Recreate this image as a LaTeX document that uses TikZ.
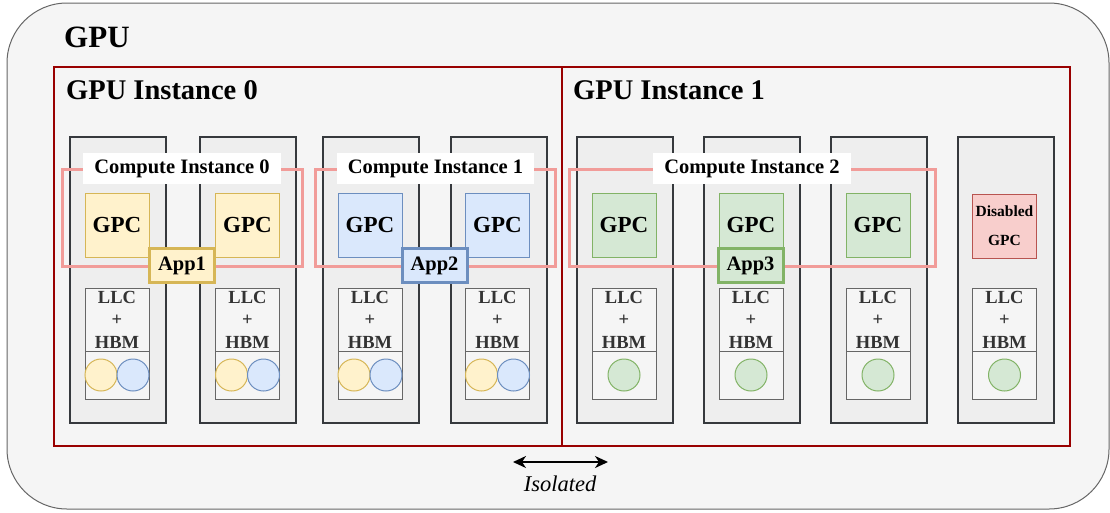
\documentclass[tikz,border=0pt]{standalone}
\usepackage{fontspec}
\setmainfont{Liberation Serif}
\usetikzlibrary{arrows.meta}
\definecolor{bgfill}{HTML}{F5F5F5}
\definecolor{bgline}{HTML}{666666}
\definecolor{instred}{HTML}{990000}
\definecolor{colfill}{HTML}{EEEEEE}
\definecolor{colline}{HTML}{36393D}
\definecolor{pinkline}{HTML}{F19C99}
\definecolor{yfill}{HTML}{FFF2CC}
\definecolor{yline}{HTML}{D6B656}
\definecolor{bfill}{HTML}{DAE8FC}
\definecolor{bline}{HTML}{6C8EBF}
\definecolor{gfill}{HTML}{D5E8D4}
\definecolor{gline}{HTML}{82B366}
\definecolor{rfill}{HTML}{F8CECC}
\definecolor{rline}{HTML}{B85450}
\definecolor{txtgray}{HTML}{333333}
\tikzset{
  outerbox/.style={draw=bgline, fill=bgfill, line width=1pt, rounded corners=60pt},
  instbox/.style={draw=instred, line width=2pt, minimum width=508pt, minimum height=379pt, inner sep=0pt},
  colbox/.style={draw=colline, fill=colfill, line width=2pt, minimum width=96pt, minimum height=286pt, inner sep=0pt},
  cibox/.style={draw=pinkline, line width=3pt, minimum height=97pt, inner sep=0pt},
  cilabel/.style={fill=white, inner xsep=11pt, minimum height=31pt, font=\fontsize{20.5}{24}\selectfont\bfseries},
  gpcbox/.style={minimum width=64pt, minimum height=64pt, inner sep=0pt, line width=1pt, font=\fontsize{23}{26}\selectfont\bfseries},
  appbox/.style={minimum width=65pt, minimum height=34pt, inner sep=0pt, line width=3pt, font=\fontsize{20.5}{24}\selectfont\bfseries},
  llcbox/.style={draw=bgline, fill=bgfill, line width=1pt, minimum width=64pt, minimum height=63pt, inner sep=0pt, align=center, text=txtgray, font=\fontsize{18.5}{22.5}\selectfont\bfseries},
  memcell/.style={draw=bgline, fill=bgfill, line width=1pt, minimum width=64pt, minimum height=48pt, inner sep=0pt},
  dot/.style={circle, minimum size=32pt, inner sep=0pt, line width=1pt},
  title/.style={anchor=base west, inner sep=0pt, font=\bfseries}
}
\begin{document}
\begin{tikzpicture}[x=1pt,y=-1pt]
\useasboundingbox (0,0) rectangle (1110,512);
\draw[outerbox] (7,3) rectangle (1109,509);
\node[title, font=\fontsize{31}{36}\selectfont\bfseries] (gputitle) at (64,47) {GPU};
% GPU instances
\node[instbox] (gi0) at (308,256.5) {};
\node[instbox] (gi1) at (816,256.5) {};
\node[title, font=\fontsize{28.5}{32}\selectfont\bfseries] (gi0t) at (66,99) {GPU Instance 0};
\node[title, font=\fontsize{28.5}{32}\selectfont\bfseries] (gi1t) at (573,99) {GPU Instance 1};
% columns
\foreach \i/\x in {1/118,2/247.5,3/371,4/499,5/625,6/752,7/879,8/1005.5}{
  \node[colbox] (col\i) at (\x,280) {};
}
% compute instances
\node[cibox, minimum width=240pt] (ci0) at (182,217.5) {};
\node[cibox, minimum width=240pt] (ci1) at (435,217.5) {};
\node[cibox, minimum width=366pt] (ci2) at (752,217.5) {};
\node[cilabel] (ci0t) at (182,168.5) {Compute Instance 0};
\node[cilabel] (ci1t) at (435.5,168.5) {Compute Instance 1};
\node[cilabel] (ci2t) at (752,168.5) {Compute Instance 2};
% GPCs
\foreach \i/\x in {1/117,2/247.5}{
  \node[gpcbox, draw=yline, fill=yfill] (gpc\i) at (\x,225) {GPC};
}
\foreach \i/\x in {3/370,4/497.5}{
  \node[gpcbox, draw=bline, fill=bfill] (gpc\i) at (\x,225) {GPC};
}
\foreach \i/\x in {5/624,6/751,7/878}{
  \node[gpcbox, draw=gline, fill=gfill] (gpc\i) at (\x,225) {GPC};
}
\node[gpcbox, draw=rline, fill=rfill, align=center, font=\fontsize{15.5}{29}\selectfont\bfseries] (gpc8) at (1004.5,226) {Disabled\\GPC};
% Apps
\node[appbox, draw=yline, fill=yfill] (app1) at (182,265.5) {App1};
\node[appbox, draw=bline, fill=bfill] (app2) at (434.5,265.5) {App2};
\node[appbox, draw=gline, fill=gfill] (app3) at (750.5,265.5) {App3};
% LLC + HBM
\foreach \i/\x in {1/117,2/247.5,3/370,4/497.5,5/624,6/751,7/878,8/1004.5}{
  \node[llcbox] (llc\i) at (\x,319.5) {LLC\\+\\HBM};
  \node[memcell] (mem\i) at (\x,375) {};
}
\foreach \i in {1,2,3,4}{
  \node[dot, draw=yline, fill=yfill] (ya\i) at ([xshift=-16pt]mem\i.center) {};
  \node[dot, draw=bline, fill=bfill] (ba\i) at ([xshift=16pt]mem\i.center) {};
}
\foreach \i in {5,6,7,8}{
  \node[dot, draw=gline, fill=gfill] (ga\i) at (mem\i.center) {};
}
% isolated
\coordinate (isoL) at (513,462);
\coordinate (isoR) at (608,462);
\draw[line width=2pt, {Stealth[length=13pt,width=12pt,inset=4pt]}-{Stealth[length=13pt,width=12pt,inset=4pt]}] (isoL) -- (isoR);
\node[inner sep=0pt, font=\fontsize{22.5}{26}\selectfont\itshape] (iso) at (560,484) {Isolated};
\end{tikzpicture}
\end{document}
